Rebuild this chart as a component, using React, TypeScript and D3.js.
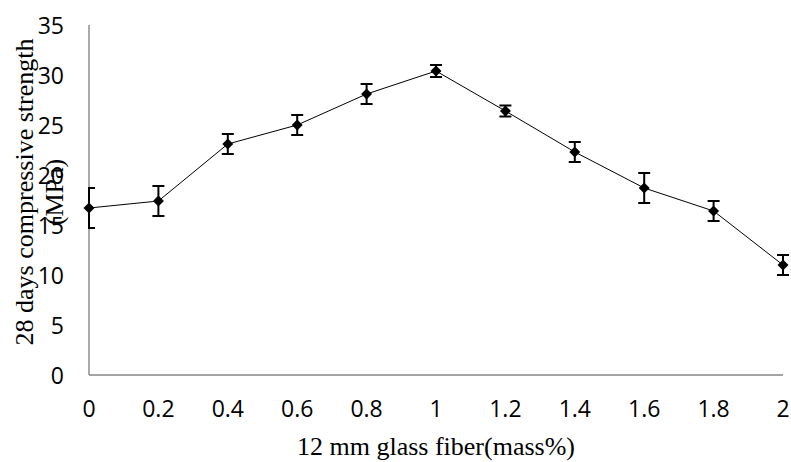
import * as d3 from 'd3'

// 12 mm glass fiber content (mass%) vs 28 d compressive strength (MPa)
const fiber = [0, 0.2, 0.4, 0.6, 0.8, 1.0, 1.2, 1.4, 1.6, 1.8, 2.0]
const strength = [16.7, 17.4, 23.1, 25.0, 28.1, 30.4, 26.4, 22.3, 18.7, 16.4, 11.0]
const errors = [2.0, 1.5, 1.0, 1.0, 1.0, 0.6, 0.55, 1.0, 1.5, 1.0, 1.0]
const xTicks = [0, 0.2, 0.4, 0.6, 0.8, 1, 1.2, 1.4, 1.6, 1.8, 2]
const yTicks = [0, 5, 10, 15, 20, 25, 30, 35]

const W = 791
const H = 462

export default function App() {
  const x = d3.scaleLinear().domain([0, 2]).range([89, 783])
  const y = d3.scaleLinear().domain([0, 35]).range([375, 25])

  const pts = fiber.map((f, i) => ({ f, v: strength[i], e: errors[i] }))
  const line = d3
    .line<{ f: number; v: number }>()
    .x((d) => x(d.f))
    .y((d) => y(d.v))
  const diamond = d3.symbol(d3.symbolSquare, 60)()

  const tickFont = "'Open Sans', sans-serif"
  const titleFont = "'Liberation Serif', 'Times New Roman', serif"
  const cap = 6

  return (
    <svg
      width={W}
      height={H}
      style={{ position: 'absolute', left: 0, top: 0, background: '#fff' }}
    >
      <defs>
        <clipPath id="plot">
          <rect x={x(0) - 1} y={0} width={x(2) - x(0) + 10} height={H} />
        </clipPath>
      </defs>

      {/* axes */}
      <line x1={x(0)} x2={x(0)} y1={y(35)} y2={y(0)} stroke="#868686" strokeWidth={1.4} />
      <line x1={x(0)} x2={x(2)} y1={y(0)} y2={y(0)} stroke="#868686" strokeWidth={1.4} />

      {yTicks.map((t) => (
        <text
          key={'y' + t}
          x={64}
          y={y(t)}
          textAnchor="end"
          dominantBaseline="central"
          fontFamily={tickFont}
          fontSize={23}
          fill="#000"
        >
          {t}
        </text>
      ))}
      {xTicks.map((t) => (
        <text
          key={'x' + t}
          x={x(t)}
          y={417}
          textAnchor="middle"
          fontFamily={tickFont}
          fontSize={23}
          fill="#000"
        >
          {t}
        </text>
      ))}

      {/* series */}
      <path d={line(pts) ?? ''} fill="none" stroke="#000" strokeWidth={1} />
      <g clipPath="url(#plot)" stroke="#000" strokeWidth={2}>
        {pts.map((d, i) => (
          <g key={'e' + i}>
            <line x1={x(d.f)} x2={x(d.f)} y1={y(d.v + d.e)} y2={y(d.v - d.e)} />
            <line x1={x(d.f) - cap} x2={x(d.f) + cap} y1={y(d.v + d.e)} y2={y(d.v + d.e)} />
            <line x1={x(d.f) - cap} x2={x(d.f) + cap} y1={y(d.v - d.e)} y2={y(d.v - d.e)} />
          </g>
        ))}
      </g>
      {pts.map((d, i) => (
        <path
          key={'m' + i}
          d={diamond ?? ''}
          transform={`translate(${x(d.f)},${y(d.v)}) rotate(45)`}
          fill="#000"
        />
      ))}

      {/* titles */}
      <text
        x={436}
        y={455}
        textAnchor="middle"
        fontFamily={titleFont}
        fontSize={26}
        fill="#000"
      >
        12 mm glass fiber(mass%)
      </text>
      <g transform="translate(0,192) rotate(-90)" fontFamily={titleFont} fontSize={26} fill="#000">
        <text x={0} y={33} textAnchor="middle">
          28 days compressive strength
        </text>
        <text x={0} y={63} textAnchor="middle">
          (MPa)
        </text>
      </g>
    </svg>
  )
}
